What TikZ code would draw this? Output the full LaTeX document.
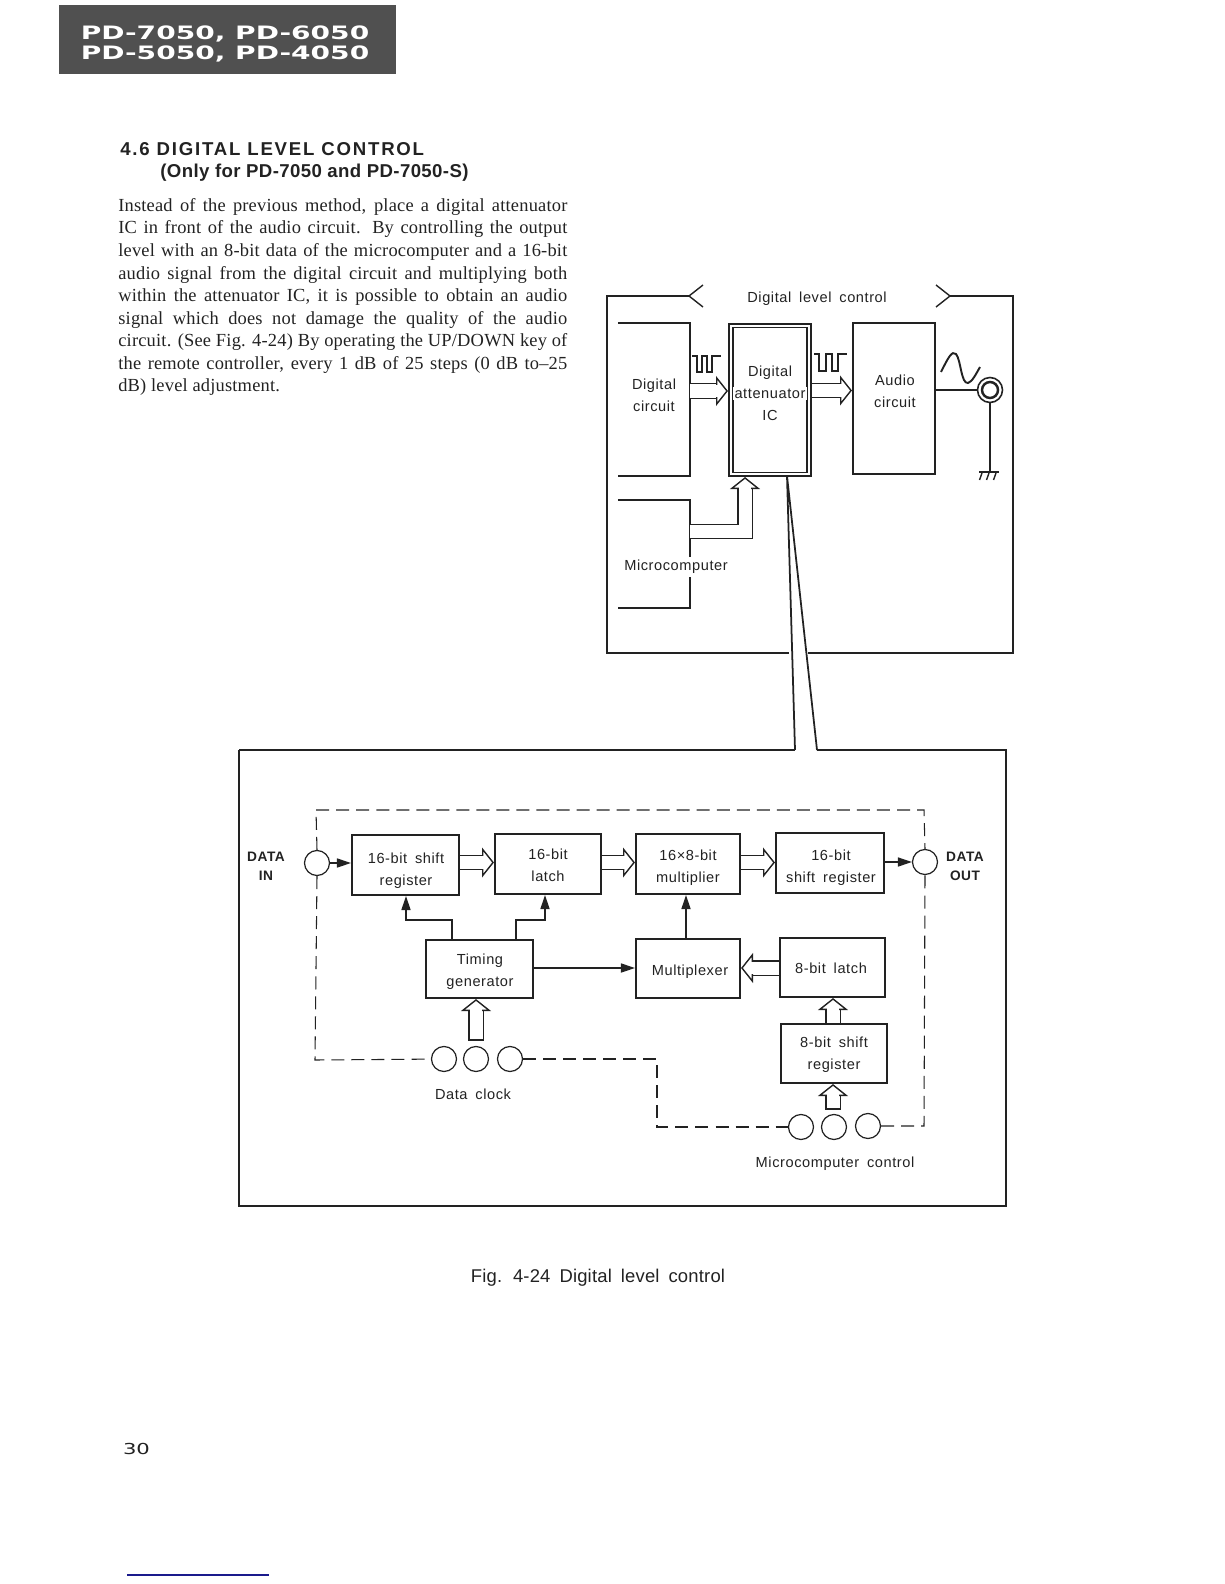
\documentclass[tikz,border=0pt]{standalone}
\usepackage{fontspec}
\usetikzlibrary{arrows.meta}
\setmainfont[LetterSpace=1]{Liberation Serif}
\newfontfamily\diagfont[LetterSpace=4,WordSpace=1.7]{Liberation Sans}
\newfontfamily\headfont{Liberation Sans}
\newfontfamily\bannerfont[FakeStretch=1.52]{DejaVu Sans}
\newfontfamily\numfont[FakeStretch=1.4]{DejaVu Sans}
\definecolor{inkblack}{HTML}{222222}
\definecolor{bannergray}{HTML}{505050}
\definecolor{rulerblue}{HTML}{1A1A8C}
\begin{document}
\begin{tikzpicture}[x=0.02cm,y=-0.02cm,inkblack]

\tikzset{blockbox/.style 2 args={rectangle,draw,line width=1.2pt,minimum width=#1*0.02cm,minimum height=#2*0.02cm,inner sep=0pt},}
\tikzset{openbox/.style 2 args={rectangle,minimum width=#1*0.02cm,minimum height=#2*0.02cm,inner sep=0pt,outer sep=0.6pt},}
\tikzset{labeltext/.style={inner sep=0pt,align=center,font=\diagfont\fontsize{8.3}{12.5}\selectfont,text=inkblack},}
\tikzset{portcircle/.style={circle,draw,line width=0.7pt,minimum size=25*0.02cm,inner sep=0pt},}
\tikzset{frameline/.style={line width=1.3pt,line join=miter},}
\tikzset{thinline/.style={line width=0.8pt},}
\tikzset{dashline/.style={line width=0.6pt,dash pattern=on 7.4pt off 4pt},}
\tikzset{ctrlarrow/.style={line width=0.7pt,-{Triangle[length=8pt,width=5.2pt]}},}
\tikzset{busarrow/.style={line width=0.8pt,double,double distance=7.4pt,-{Triangle[fill=white,line width=0.8pt,length=6.8pt,width=17pt]},
  postaction={draw=white,double=white,double distance=7pt,line width=0.1pt,-,shorten >=5pt,shorten <=1pt}},}

\useasboundingbox (0,0) rectangle (1224,1584);

  %page head
  \fill[bannergray] (59,5) rectangle (396,74);
  \draw (225,44) node[inner sep=0pt,align=center,text=white,font=\bannerfont\bfseries\fontsize{10.5}{11.4}\selectfont](banner) {PD-7050, PD-6050\\PD-5050, PD-4050};
  \draw (120,142) node[anchor=north west,inner sep=0pt,align=left,font=\headfont\bfseries\fontsize{10.6}{12.8}\selectfont](heading) {\addfontfeature{LetterSpace=9.5}4.6 DIGITAL LEVEL CONTROL\\\hspace*{22.8pt}\addfontfeature{LetterSpace=2}(Only for PD-7050 and PD-7050-S)};
  \draw (118,198) node[anchor=north west,inner sep=0pt,text width=449*0.02cm,align=justify,font=\fontsize{10.5}{12.85}\selectfont](bodytext) {Instead of the previous method, place a digital attenuator\linebreak
  IC in front of the audio circuit. By controlling the output\linebreak
  level with an 8-bit data of the microcomputer and a 16-bit\linebreak
  audio signal from the digital circuit and multiplying both\linebreak
  within the attenuator IC, it is possible to obtain an audio\linebreak
  signal which does not damage the quality of the audio\linebreak
  circuit. (See Fig. 4-24) By operating the UP/DOWN key of\linebreak
  the remote controller, every 1 dB of 25 steps (0 dB to--25\linebreak
  dB) level adjustment.};

  %upper frame
  \draw[frameline] (689,296) -- (607,296) -- (607,653) -- (789,653);
  \draw[frameline] (808,653) -- (1013,653) -- (1013,296) -- (950,296);
  \draw[thinline] (703,285) -- (689,296) -- (703,307);
  \draw[thinline] (936,285) -- (950,296) -- (936,307);
  \draw (817,299) node[labeltext](leveltext) {Digital level control};

  %upper blocks
  \draw (654,399.5) node[openbox={70}{151}](digital) {};
  \draw[frameline] (digital.north west) -- (digital.north east) -- (digital.south east) -- (digital.south west);
  \draw (654,395) node[labeltext](digitaltext) {Digital\\circuit};
  \draw (654,554) node[openbox={70}{106}](micro) {};
  \draw[frameline] (micro.north west) -- (micro.north east) -- (micro.south east) -- (micro.south west);
  \draw (676,567) node[labeltext,fill=white,inner ysep=2pt](microtext) {Microcomputer};
  \draw (770,400) node[blockbox={82}{152}](atten) {};
  \draw (770,400) node[blockbox={74}{145},line width=0.6pt](atteninner) {};
  \draw (770,393) node[labeltext](attentext) {Digital\\\fboxsep=1pt\colorbox{white}{attenuator}\\IC};
  \draw (894,398.5) node[blockbox={82}{151}](audio) {};
  \draw (895,391) node[labeltext](audiotext) {Audio\\circuit};
  \draw (990,390) node[portcircle,line width=0.9pt](jackouter) {};
  \draw (990,390) node[portcircle,minimum size=16*0.02cm,line width=1.4pt](jackinner) {};
  \coordinate (groundtop) at (990,472);

  %edges upper
  \draw[busarrow] (digital.east |- 0,391) -- (atten.west |- 0,391);
  \draw[busarrow] (atten.east |- 0,390.5) -- (audio.west |- 0,390.5);
  \draw[busarrow] (micro.east |- 0,531.5) -| (atten.south -| 745,0);
  \draw[thinline] (audio.east |- jackouter) -- (jackouter);
  \draw[thinline] (jackouter) -- (groundtop);
  \draw[line width=1pt] (979,472) -- (999,472);
  \foreach \gx in {982,989,996} \draw[thinline] (\gx,473) -- (\gx-2.5,480);
  \draw[line width=1.3pt] (692,356) -- (697,356) -- (697,372) -- (702,372) -- (702,356) -- (707,356) -- (707,372) -- (712,372) -- (712,356) -- (721,356);
  \draw[line width=1.3pt] (814,354) -- (819,354) -- (819,371) -- (826,371) -- (826,354) -- (832,354) -- (832,371) -- (838,371) -- (838,354) -- (847,354);
  \draw[line width=1.1pt] (941,372) .. controls (948,358) and (952,350) .. (956,354) .. controls (961,360) and (961,384) .. (968,383) .. controls (972,382) and (976,374) .. (980,367);

  %callout to the lower frame
  \coordinate (calloutstart) at (787,476);
  \coordinate (calloutleft) at (795,750);
  \coordinate (calloutright) at (817,750);
  \draw[frameline] (239,750) -- (calloutleft);
  \draw[frameline] (calloutright) -- (1006,750) -- (1006,1206) -- (239,1206) -- (239,750);
  \draw[line width=1pt] (calloutleft) -- (calloutstart) -- (calloutright);

  %lower blocks
  \draw (405.5,865) node[blockbox={107}{60}](shiftin) {};
  \draw (548,864) node[blockbox={106}{60}](latchin) {};
  \draw (688,864) node[blockbox={104}{60}](multi) {};
  \draw (830,863) node[blockbox={108}{60}](shiftout) {};
  \draw (479.5,969) node[blockbox={107}{58}](timing) {};
  \draw (688,968.5) node[blockbox={104}{59}](mux) {};
  \draw (832.5,967.5) node[blockbox={105}{59}](latcheight) {};
  \draw (834,1053.5) node[blockbox={106}{59}](shifteight) {};

  \draw (406,871) node[labeltext](shiftintext) {16-bit shift\\register};
  \draw (548,865) node[labeltext](latchintext) {16-bit\\latch};
  \draw (688,868) node[labeltext](multitext) {16×8-bit\\multiplier};
  \draw (831,868) node[labeltext](shiftouttext) {16-bit\\shift register};
  \draw (480,971.5) node[labeltext](timingtext) {Timing\\generator};
  \draw (690,971.5) node[labeltext](muxtext) {Multiplexer};
  \draw (831,968.5) node[labeltext](latcheighttext) {8-bit latch};
  \draw (834,1055) node[labeltext](shifteighttext) {8-bit shift\\register};

  \draw (317,863) node[portcircle](datain) {};
  \draw (925,862) node[portcircle](dataout) {};
  \draw (444,1059) node[portcircle](clockone) {};
  \draw (476,1059) node[portcircle](clocktwo) {};
  \draw (510,1059) node[portcircle](clockthree) {};
  \draw (801,1127) node[portcircle](ctrlone) {};
  \draw (834,1127) node[portcircle](ctrltwo) {};
  \draw (868,1126) node[portcircle](ctrlthree) {};

  \draw (266,866) node[labeltext,font=\diagfont\bfseries\fontsize{7.8}{10.9}\selectfont](intext) {DATA\\IN};
  \draw (965,866) node[labeltext,font=\diagfont\bfseries\fontsize{7.8}{10.9}\selectfont](outtext) {DATA\\OUT};
  \draw (473,1094) node[labeltext](clocktext) {Data clock};
  \draw (835,1164) node[labeltext](ctrltext) {Microcomputer control};
  \draw (598,1278) node[labeltext,font=\diagfont\addfontfeature{LetterSpace=1}\fontsize{10.5}{12}\selectfont](caption) {Fig. 4-24 Digital level control};
  \draw (136.5,1449) node[inner sep=0pt,font=\numfont\fontsize{8.6}{10}\selectfont](pagenum) {30};
  \draw[rulerblue,line width=0.9pt] (127,1575) -- (269,1575);

  %dashed loop
  \coordinate (dashtl) at (316,810);
  \coordinate (dashtr) at (924,810);
  \coordinate (dashbl) at (315,1060);
  \coordinate (dashmid) at (657,1059);
  \coordinate (dashlow) at (657,1127);
  \coordinate (dashbr) at (924,1126);
  \draw[dashline] (datain.north) -- (dashtl) -- (dashtr) -- (dataout.north);
  \draw[dashline] (datain.south) -- (dashbl) -- (clockone);
  \draw[dashline] (clockthree) -- (dashmid) -- (dashlow) -- (ctrlone);
  \draw[dashline] (ctrlthree) -- (dashbr) -- (dataout.south);

  %edges lower
  \draw[ctrlarrow] (datain) -- (shiftin.west |- datain);
  \draw[ctrlarrow] (shiftout.east |- dataout) -- (dataout);
  \draw[busarrow] (shiftin.east |- 0,862.5) -- (latchin.west |- 0,862.5);
  \draw[busarrow] (latchin.east |- 0,862.5) -- (multi.west |- 0,862.5);
  \draw[busarrow] (multi.east |- 0,862.5) -- (shiftout.west |- 0,862.5);
  \draw[ctrlarrow] (timing.north -| 452,0) -- (452,920) -- (406,920) -- (shiftin.south -| 406,0);
  \draw[ctrlarrow] (timing.north -| 516,0) -- (516,920) -- (545,920) -- (latchin.south -| 545,0);
  \draw[ctrlarrow] (timing.east |- 0,968) -- (mux.west |- 0,968);
  \draw[ctrlarrow] (mux.north -| 686,0) -- (multi.south -| 686,0);
  \draw[busarrow] (latcheight.west |- 0,968) -- (mux.east |- 0,968);
  \draw[busarrow] (shifteight.north -| 833,0) -- (latcheight.south -| 833,0);
  \coordinate (ctrltail) at (833,1109);
  \coordinate (clocktail) at (476,1040);
  \draw[busarrow] (ctrltail) -- (shifteight.south -| 833,0);
  \draw[busarrow] (clocktail) -- (timing.south -| 476,0);
  \draw[thinline] ([xshift=-4.5pt]ctrltail) -- ([xshift=4.5pt]ctrltail);
  \draw[thinline] ([xshift=-4.5pt]clocktail) -- ([xshift=4.5pt]clocktail);

\end{tikzpicture}
\end{document}
